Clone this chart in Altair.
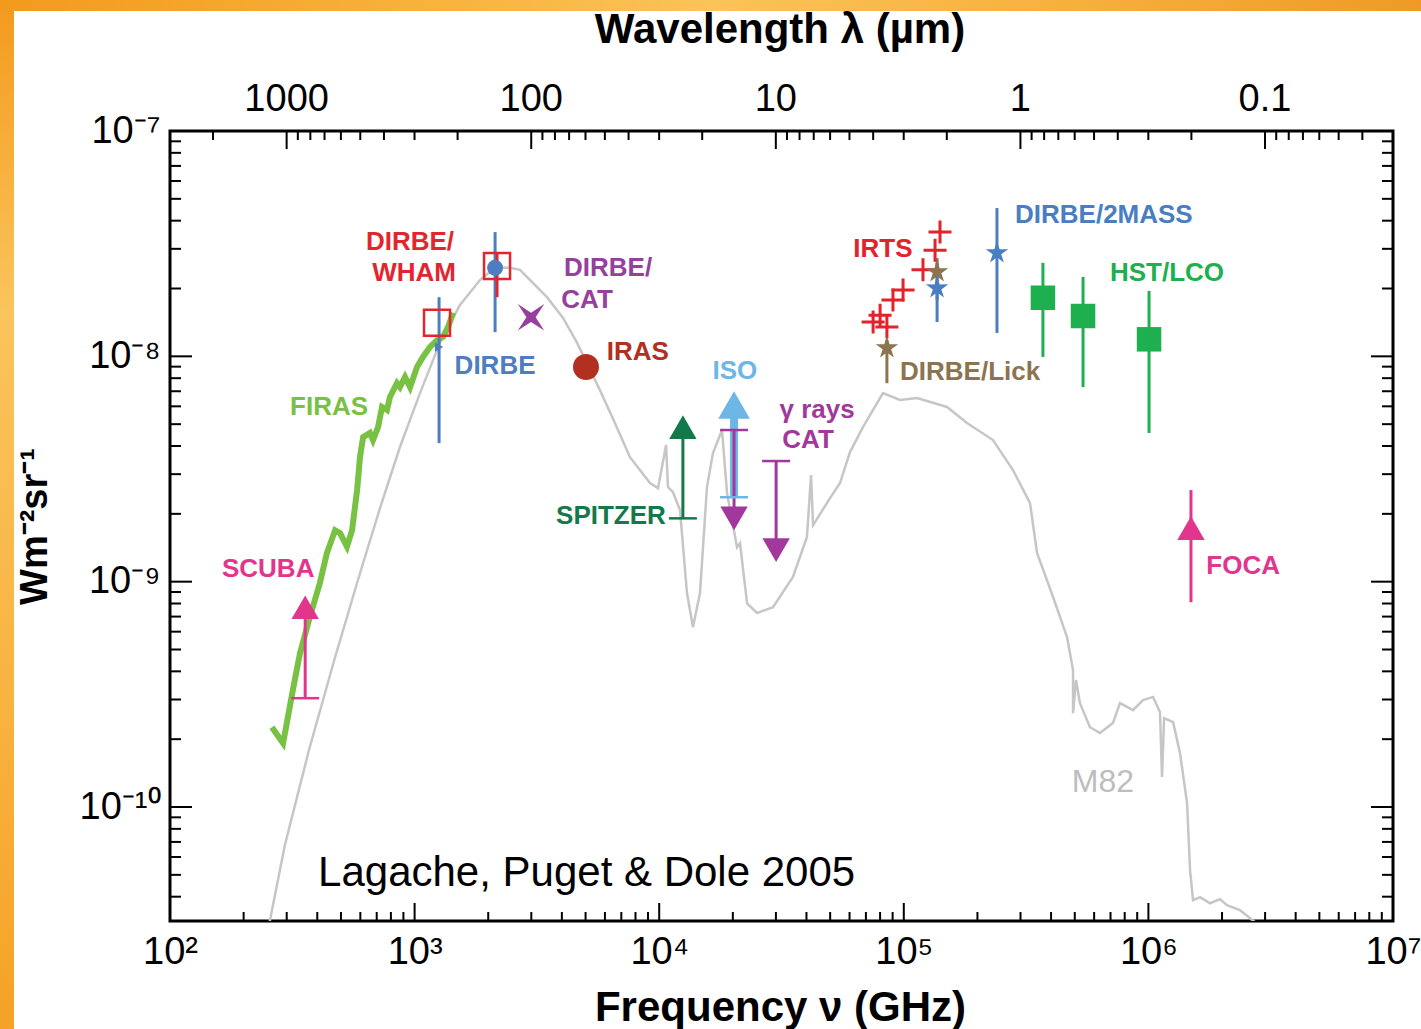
import altair as alt
import pandas as pd

FONT = "Liberation Sans"
C_UM_GHZ = 299792.458  # speed of light in µm·GHz (λ[µm] = c / ν[GHz])

# ---------------- data: ν in GHz, νIν in W m^-2 sr^-1 ----------------
# Grey template spectrum (M82-like SED scaled to the CIB)
m82_nu = [238, 295, 370, 473, 598, 722, 871, 1052, 1270, 1533, 1851, 2033, 2233, 2455,
          2697, 3477, 4045, 4612, 5724, 6590, 7598, 9170, 9886, 10670, 10860, 11380,
          12160, 12990, 13740, 14680, 15680, 16590, 18060, 18940, 20810, 21400, 22870,
          25120, 29190, 35220, 40180, 41770, 42560, 49940, 54850, 60260, 68070, 82200,
          96400, 113200, 150200, 181300, 231600, 279500, 328100, 350500, 407600, 464900,
          491900, 491900, 505800, 525000, 576800, 633700, 716200, 765500, 865100, 950600,
          1.045e6, 1.115e6, 1.137e6, 1.159e6, 1.262e6, 1.347e6, 1.439e6, 1.480e6,
          1.522e6, 1.626e6, 1.786e6, 1.963e6, 2.096e6, 2.366e6, 2.73e6, 2.91e6]
m82_flux = [2.1e-11, 6.78e-11, 1.79e-10, 4.62e-10, 1.09e-9, 2.12e-9, 3.96e-9, 6.87e-9,
            1.15e-8, 1.69e-8, 2.18e-8, 2.37e-8, 2.48e-8, 2.47e-8,
            2.42e-8, 1.83e-8, 1.48e-8, 1.15e-8, 7.08e-9, 5.06e-9, 3.57e-9, 2.74e-9,
            2.60e-9, 4.04e-9, 2.63e-9, 2.50e-9,
            2.08e-9, 8.9e-10, 6.28e-10, 8.9e-10, 2.63e-9, 3.72e-9, 4.71e-9, 2.47e-9,
            1.42e-9, 1.48e-9, 8.0e-10,
            7.26e-10, 7.7e-10, 1.05e-9, 1.58e-9, 2.97e-9, 1.78e-9, 2.35e-9, 2.74e-9,
            3.76e-9, 4.85e-9, 6.87e-9,
            6.4e-9, 6.53e-9, 5.96e-9, 5.06e-9, 4.25e-9, 3.13e-9, 2.23e-9, 1.34e-9,
            8.55e-10, 5.68e-10,
            4.05e-10, 2.61e-10, 3.66e-10, 2.89e-10, 2.26e-10, 2.13e-10, 2.36e-10,
            2.89e-10, 2.69e-10, 2.98e-10,
            3.08e-10, 2.64e-10, 1.36e-10, 2.48e-10, 2.38e-10, 1.73e-10, 1.04e-10,
            5.25e-11,
            3.86e-11, 3.98e-11, 3.74e-11, 3.9e-11, 3.67e-11, 3.49e-11, 3.08e-11, 2.7e-11]

# FIRAS spectrum
firas_nu = [261, 290, 318, 340, 373, 410, 438, 473, 496, 529, 555, 582, 598, 616, 657,
            676, 709, 736, 771, 793, 847, 871, 914, 958, 1023, 1082, 1156, 1235, 1307,
            1370, 1437]
firas_flux = [2.26e-10, 1.92e-10, 3.31e-10, 4.82e-10, 6.97e-10, 9.86e-10, 1.34e-9,
              1.69e-9, 1.64e-9, 1.43e-9, 1.69e-9, 2.55e-9, 3.57e-9, 4.38e-9, 4.57e-9,
              4.25e-9, 4.85e-9, 5.96e-9, 5.78e-9, 6.6e-9, 7.6e-9, 7.3e-9, 8.1e-9,
              7.3e-9, 8.97e-9, 9.94e-9, 1.10e-8, 1.18e-8, 1.22e-8, 1.35e-8, 1.56e-8]

# Vertical error bars and limit shafts
bar_inst = ["DIRBE", "DIRBE", "DIRBE/WHAM", "SCUBA", "SPITZER", "γ rays CAT",
            "γ rays CAT", "DIRBE/Lick", "DIRBE/Lick", "DIRBE/2MASS", "DIRBE/2MASS",
            "HST/LCO", "HST/LCO", "HST/LCO", "FOCA"]
bar_nu = [1259, 2133, 2173, 357, 12500, 20230, 30060, 85300, 136800, 136800, 240400,
          370500, 540500, 1.006e6, 1.493e6]
bar_lo = [4.12e-9, 1.28e-8, 1.83e-8, 3.04e-10, 1.91e-9, 1.91e-9, 1.38e-9, 7.6e-9,
          1.78e-8, 1.42e-8, 1.27e-8, 9.94e-9, 7.3e-9, 4.57e-9, 8.11e-10]
bar_hi = [1.83e-8, 3.56e-8, 2.87e-8, 7.7e-10, 4.85e-9, 4.71e-9, 3.43e-9, 1.18e-8,
          2.73e-8, 2.6e-8, 4.55e-8, 2.6e-8, 2.25e-8, 1.95e-8, 2.55e-9]

# ISO lower limit
iso_nu = [20230]
iso_lo = [2.37e-9]
iso_hi = [6.08e-9]

# Horizontal caps closing the limits
cap_inst = ["SCUBA", "SPITZER", "ISO", "γ rays CAT", "γ rays CAT"]
cap_nu = [357, 12500, 20230, 20230, 30060]
cap_flux = [3.04e-10, 1.91e-9, 2.37e-9, 4.71e-9, 3.43e-9]

# Lower limits (upward triangles) and upper limits (downward triangles)
low_inst = ["SCUBA", "SPITZER", "FOCA"]
low_nu = [357, 12500, 1.493e6]
low_flux = [7.7e-10, 4.85e-9, 1.73e-9]
up_nu = [20230, 30060]
up_flux = [1.91e-9, 1.38e-9]

# Point measurements
dirbe_nu = [2133]
dirbe_flux = [2.47e-8]
dirbe_small_nu = [1259]
dirbe_small_flux = [1.1e-8]
wham_nu = [1235, 2173]
wham_flux = [1.41e-8, 2.52e-8]
cat_nu = [2992]
cat_flux = [1.49e-8]
iras_nu = [5020]
iras_flux = [8.97e-9]
irts_nu = [140600, 134200, 119800, 99300, 90300, 80000, 74900, 85300]
irts_flux = [3.56e-8, 2.96e-8, 2.42e-8, 1.97e-8, 1.78e-8, 1.52e-8, 1.42e-8, 1.35e-8]
star_inst = ["DIRBE/2MASS", "DIRBE/2MASS", "DIRBE/Lick", "DIRBE/Lick"]
star_nu = [136800, 240400, 85300, 136800]
star_flux = [2.01e-8, 2.88e-8, 1.09e-8, 2.37e-8]
hst_nu = [370500, 540500, 1.006e6]
hst_flux = [1.82e-8, 1.51e-8, 1.19e-8]

# Annotations
lab_text = ["FIRAS", "SCUBA", "DIRBE/", "WHAM", "DIRBE", "DIRBE/", "CAT", "IRAS", "ISO",
            "γ rays", "CAT", "SPITZER", "IRTS", "DIRBE/Lick", "DIRBE/2MASS", "HST/LCO",
            "FOCA"]
lab_inst = ["FIRAS", "SCUBA", "DIRBE/WHAM", "DIRBE/WHAM", "DIRBE", "DIRBE/CAT",
            "DIRBE/CAT", "IRAS", "ISO", "γ rays CAT", "γ rays CAT", "SPITZER", "IRTS",
            "DIRBE/Lick", "DIRBE/2MASS", "HST/LCO", "FOCA"]
lab_nu = [447, 252, 958, 995, 2133, 6180, 5070, 8180, 20400, 44200, 40600, 6350, 82200,
          186700, 657500, 1.191e6, 2.439e6]
lab_flux = [5.96e-9, 1.14e-9, 3.21e-8, 2.34e-8, 9.06e-9, 2.47e-8, 1.78e-8, 1.04e-8,
            8.6e-9, 5.78e-9, 4.25e-9, 1.95e-9, 2.99e-8, 8.5e-9, 4.24e-8, 2.34e-8,
            1.17e-9]
m82_label = ("M82", 651600, 1.29e-10)
citation = ("Lagache, Puget & Dole 2005", 403, 5.1e-11)

# Axis text
x_exponents = [2, 3, 4, 5, 6, 7]
x_labels = ["10²", "10³", "10⁴", "10⁵", "10⁶", "10⁷"]
y_exponents = [-10, -9, -8, -7]
y_labels = ["10⁻¹⁰", "10⁻⁹", "10⁻⁸", "10⁻⁷"]
lam_labels = [1000, 100, 10, 1, 0.1]
lam_texts = ["1000", "100", "10", "1", "0.1"]
x_title = "Frequency ν (GHz)"
y_title = "Wm⁻²sr⁻¹"
top_title = "Wavelength λ (µm)"

INST_COLORS = {
    "FIRAS": "#78C142", "SCUBA": "#E2358C", "DIRBE/WHAM": "#E3262E",
    "DIRBE": "#4C7EC1", "DIRBE/CAT": "#96409E", "IRAS": "#B2301F",
    "ISO": "#6DB6E6", "γ rays CAT": "#A2389C", "SPITZER": "#13794A",
    "IRTS": "#E3232B", "DIRBE/Lick": "#8C7450", "DIRBE/2MASS": "#4A7EC2",
    "HST/LCO": "#1EB04E", "FOCA": "#E2358C",
}

# ---------------- layout ----------------
W, H = 1223, 790
X_DOMAIN = [1e2, 1e7]
Y_DOMAIN = [3.12e-11, 1e-7]
TICK_X_MAJ, TICK_X_MIN = 18, 9
TICK_Y_MAJ, TICK_Y_MIN = 22, 11


def label_expr(exps, labels):
    parts = [f"round(log(datum.value) / LN10) == {e} ? '{s}'" for e, s in zip(exps, labels)]
    return " : ".join(parts) + " : ''"


XSCALE = alt.Scale(type="log", domain=X_DOMAIN, nice=False)
YSCALE = alt.Scale(type="log", domain=Y_DOMAIN, nice=False)
XAXIS = alt.Axis(values=[10.0 ** e for e in x_exponents],
                 labelExpr=label_expr(x_exponents, x_labels),
                 ticks=False, tickSize=0, domain=False, grid=False,
                 labelFont=FONT, labelFontSize=38, labelColor="black",
                 labelPadding=12, labelFlush=False, labelOverlap=False,
                 title=x_title, titleFont=FONT, titleFontSize=42,
                 titleFontWeight="bold", titleColor="black", titleX=610, titleY=86,
                 titleAlign="center", titleBaseline="middle", titleAngle=0, zindex=1)
YAXIS = alt.Axis(values=[10.0 ** e for e in y_exponents],
                 labelExpr=label_expr(y_exponents, y_labels),
                 ticks=False, tickSize=0, domain=False, grid=False,
                 labelFont=FONT, labelFontSize=38, labelColor="black",
                 labelPadding=10, labelFlush=False, labelOverlap=False,
                 title=y_title, titleFont=FONT, titleFontSize=38,
                 titleFontWeight="bold", titleColor="black", titleX=-135, titleY=395,
                 titleAlign="center", titleBaseline="middle", titleAngle=270, zindex=1)
COLOR = alt.Color("inst:N", scale=alt.Scale(domain=list(INST_COLORS),
                                             range=list(INST_COLORS.values())),
                  legend=None)


def X(field="nu"):
    return alt.X(f"{field}:Q", scale=XSCALE, axis=XAXIS)


def Y(field="F"):
    return alt.Y(f"{field}:Q", scale=YSCALE, axis=YAXIS)


def pts(nu, flux, inst=None):
    df = pd.DataFrame({"nu": nu, "F": flux})
    if inst is not None:
        df["inst"] = inst if isinstance(inst, list) else [inst] * len(nu)
    return df


# ---------------- tick marks on all four sides ----------------
x_major = [10.0 ** e for e in range(2, 8)]
x_minor = [k * 10.0 ** e for e in range(2, 7) for k in range(2, 10)]
lam_major = [C_UM_GHZ / l for l in lam_labels]
lam_minor = [C_UM_GHZ / (k * 10.0 ** e) for e in range(-2, 4) for k in range(2, 10)
             if X_DOMAIN[0] <= C_UM_GHZ / (k * 10.0 ** e) <= X_DOMAIN[1]]
y_major = [10.0 ** e for e in range(-10, -6)]
y_minor = [k * 10.0 ** e for e in range(-11, -7) for k in range(2, 10)
           if k * 10.0 ** e >= Y_DOMAIN[0]]

tick_layers = []
for vals, length, side in [(x_major, TICK_X_MAJ, "bottom"), (x_minor, TICK_X_MIN, "bottom"),
                           (lam_major, TICK_X_MAJ, "top"), (lam_minor, TICK_X_MIN, "top")]:
    y0, y1 = (H, H - length) if side == "bottom" else (0, length)
    tick_layers.append(
        alt.Chart(pd.DataFrame({"nu": vals})).mark_rule(color="black", strokeWidth=2)
        .encode(x=X(), y=alt.value(y0), y2=alt.value(y1)))
for vals, length in [(y_major, TICK_Y_MAJ), (y_minor, TICK_Y_MIN)]:
    for x0, x1 in [(0, length), (W, W - length)]:
        tick_layers.append(
            alt.Chart(pd.DataFrame({"F": vals})).mark_rule(color="black", strokeWidth=2)
            .encode(y=Y(), x=alt.value(x0), x2=alt.value(x1)))

# ---------------- slide background strips ----------------
top_grad = alt.LinearGradient(gradient="linear", x1=0, x2=1, y1=0, y2=0, stops=[
    alt.GradientStop(color="#F39A1C", offset=0), alt.GradientStop(color="#F8B23C", offset=0.3),
    alt.GradientStop(color="#FBC358", offset=0.5), alt.GradientStop(color="#F7B03E", offset=0.75),
    alt.GradientStop(color="#EF9A26", offset=1)])
left_grad = alt.LinearGradient(gradient="linear", x1=0, x2=0, y1=0, y2=1, stops=[
    alt.GradientStop(color="#F39A1C", offset=0), alt.GradientStop(color="#FBC45C", offset=0.3),
    alt.GradientStop(color="#F9B747", offset=0.6), alt.GradientStop(color="#F5A226", offset=1)])
one_row = alt.Data(values=[{"k": 1}])
strip_top = alt.Chart(one_row).mark_rect(color=top_grad).encode(
    x=alt.value(-170), x2=alt.value(1251), y=alt.value(-131), y2=alt.value(-120))
strip_left = alt.Chart(one_row).mark_rect(color=left_grad).encode(
    x=alt.value(-170), x2=alt.value(-156), y=alt.value(-131), y2=alt.value(898))

# ---------------- top wavelength axis ----------------
top_labels = alt.Chart(pd.DataFrame({"nu": lam_major, "t": lam_texts})).mark_text(
    font=FONT, fontSize=38, color="black", baseline="middle").encode(
    x=X(), y=alt.value(-31), text="t:N")
top_title_mark = alt.Chart(alt.Data(values=[{"t": top_title}])).mark_text(
    font=FONT, fontSize=42, fontWeight="bold", color="black", baseline="middle").encode(
    x=alt.value(610), y=alt.value(-101), text="t:N")

# ---------------- spectra ----------------
m82_df = pts(m82_nu, m82_flux)
m82_df["i"] = range(len(m82_df))
m82_line = alt.Chart(m82_df).mark_line(color="#C6C6C6", strokeWidth=2.5, clip=True).encode(
    x=X(), y=Y(), order="i:Q")
firas_df = pts(firas_nu, firas_flux)
firas_df["i"] = range(len(firas_df))
firas_line = alt.Chart(firas_df).mark_line(color=INST_COLORS["FIRAS"], strokeWidth=6,
                                           strokeJoin="miter").encode(
    x=X(), y=Y(), order="i:Q")

# ---------------- limits & error bars ----------------
iso_shaft = alt.Chart(pd.DataFrame({"nu": iso_nu, "F": iso_lo, "hi": iso_hi})).mark_rule(
    color=INST_COLORS["ISO"], strokeWidth=8).encode(x=X(), y=Y(), y2="hi:Q")
iso_head = alt.Chart(pts(iso_nu, iso_hi)).mark_point(
    shape="triangle-up", filled=True, size=1000, opacity=1,
    color=INST_COLORS["ISO"]).encode(x=X(), y=Y())
bars_df = pd.DataFrame({"nu": bar_nu, "F": bar_lo, "hi": bar_hi, "inst": bar_inst})
bars = alt.Chart(bars_df).mark_rule(strokeWidth=3).encode(
    x=X(), y=Y(), y2="hi:Q", color=COLOR)
caps = alt.Chart(pts(cap_nu, cap_flux, cap_inst)).mark_point(
    shape="M-1,0L1,0", filled=False, size=784, strokeWidth=2.5, opacity=1).encode(
    x=X(), y=Y(), color=COLOR)
low_lim = alt.Chart(pts(low_nu, low_flux, low_inst)).mark_point(
    shape="triangle-up", filled=True, size=750, opacity=1).encode(
    x=X(), y=Y(), color=COLOR)
up_lim = alt.Chart(pts(up_nu, up_flux, "γ rays CAT")).mark_point(
    shape="triangle-down", filled=True, size=750, opacity=1).encode(
    x=X(), y=Y(), color=COLOR)

# ---------------- point measurements ----------------
STAR = ("M0,-1L0.223,-0.307L0.951,-0.309L0.361,0.117L0.588,0.809L0,0.38"
        "L-0.588,0.809L-0.361,0.117L-0.951,-0.309L-0.223,-0.307Z")
STAR4 = "M-1,-1L0,-0.35L1,-1L0.35,0L1,1L0,0.35L-1,1L-0.35,0Z"
PLUS = "M-1,0L1,0M0,-1L0,1"

dirbe_dot = alt.Chart(pts(dirbe_nu, dirbe_flux, "DIRBE")).mark_point(
    shape="circle", filled=True, size=256, opacity=1).encode(x=X(), y=Y(), color=COLOR)
dirbe_small = alt.Chart(pts(dirbe_small_nu, dirbe_small_flux, "DIRBE")).mark_point(
    shape="triangle-right", filled=True, size=90, opacity=1).encode(x=X(), y=Y(), color=COLOR)
wham_sq = alt.Chart(pts(wham_nu, wham_flux, "DIRBE/WHAM")).mark_point(
    shape="square", filled=False, size=676, strokeWidth=2.5, opacity=1).encode(
    x=X(), y=Y(), color=COLOR)
cat_star = alt.Chart(pts(cat_nu, cat_flux, "DIRBE/CAT")).mark_point(
    shape=STAR4, filled=True, size=700, opacity=1).encode(x=X(), y=Y(), color=COLOR)
iras_dot = alt.Chart(pts(iras_nu, iras_flux, "IRAS")).mark_point(
    shape="circle", filled=True, size=676, opacity=1).encode(x=X(), y=Y(), color=COLOR)
irts_plus = alt.Chart(pts(irts_nu, irts_flux, "IRTS")).mark_point(
    shape=PLUS, filled=False, size=530, strokeWidth=3, opacity=1).encode(
    x=X(), y=Y(), color=COLOR)
stars = alt.Chart(pts(star_nu, star_flux, star_inst)).mark_point(
    shape=STAR, filled=True, size=560, opacity=1).encode(x=X(), y=Y(), color=COLOR)
hst_sq = alt.Chart(pts(hst_nu, hst_flux, "HST/LCO")).mark_point(
    shape="square", filled=True, size=600, opacity=1).encode(x=X(), y=Y(), color=COLOR)

# ---------------- annotations ----------------
labels = alt.Chart(pd.DataFrame({"nu": lab_nu, "F": lab_flux, "t": lab_text,
                                 "inst": lab_inst})).mark_text(
    font=FONT, fontSize=26, fontWeight="bold", baseline="middle").encode(
    x=X(), y=Y(), text="t:N", color=COLOR)
m82_text = alt.Chart(pd.DataFrame({"nu": [m82_label[1]], "F": [m82_label[2]],
                                   "t": [m82_label[0]]})).mark_text(
    font=FONT, fontSize=32, color="#BDBDBD", baseline="middle").encode(
    x=X(), y=Y(), text="t:N")
cite_text = alt.Chart(pd.DataFrame({"nu": [citation[1]], "F": [citation[2]],
                                    "t": [citation[0]]})).mark_text(
    font=FONT, fontSize=42, color="black", align="left", baseline="middle").encode(
    x=X(), y=Y(), text="t:N")

chart = alt.layer(
    strip_top, strip_left, *tick_layers, top_labels, top_title_mark,
    m82_line, firas_line, iso_shaft, iso_head, bars, caps, low_lim, up_lim,
    dirbe_dot, dirbe_small, wham_sq, cat_star, iras_dot, irts_plus, stars, hst_sq,
    labels, m82_text, cite_text,
).properties(
    width=W, height=H,
    padding={"left": 170, "top": 131, "right": 28, "bottom": 108},
    autosize=alt.AutoSizeParams(type="none"),
    background="white",
).configure_view(stroke="black", strokeWidth=3)

chart.save("out.html", embed_options={"renderer": "svg", "actions": False})
